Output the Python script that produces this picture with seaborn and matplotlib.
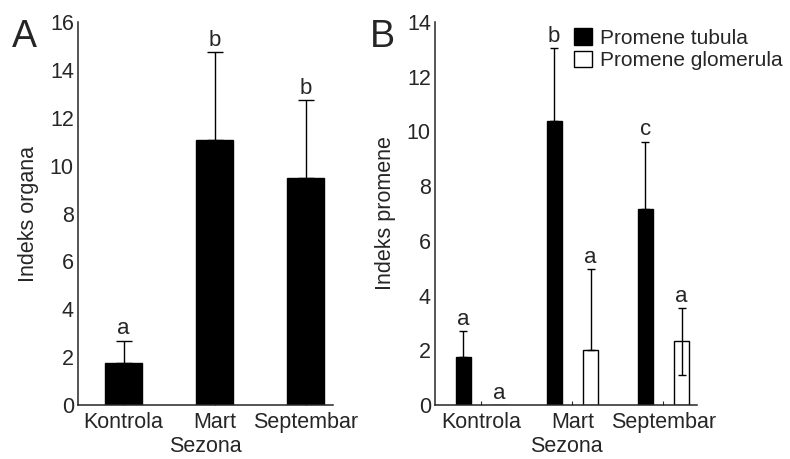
import matplotlib
matplotlib.use('Agg')
import matplotlib.pyplot as plt
import pandas as pd
import seaborn as sns

# ── Data ─────────────────────────────────────────────────────────────
seasons = ['Kontrola', 'Mart', 'Septembar']

organ_mean = [1.76, 11.08, 9.48]
organ_err = [0.93, 3.67, 3.25]
organ_letters = ['a', 'b', 'b']

series = ['Promene tubula', 'Promene glomerula']
tub_mean = [1.74, 10.38, 7.16]
tub_err = [0.96, 2.66, 2.46]
tub_letters = ['a', 'b', 'c']
glom_mean = [0.0, 2.01, 2.35]
glom_err = [0.0, 2.95, 1.18]
glom_err_low = [0.0, 0.0, 1.25]
glom_letters = ['a', 'a', 'a']

# ── Style ────────────────────────────────────────────────────────────
sns.set_style('ticks')
plt.rcParams['font.family'] = ['Liberation Sans', 'DejaVu Sans']
plt.rcParams.update({
    'axes.linewidth': 1.1,
    'xtick.direction': 'in',
    'ytick.direction': 'in',
    'xtick.major.size': 3,
    'ytick.major.size': 0,
    'xtick.major.pad': 5,
    'ytick.major.pad': 3,
    'xtick.labelsize': 15.5,
    'ytick.labelsize': 15.5,
    'axes.labelsize': 15.5,
})

fig = plt.figure(figsize=(7.9, 4.59), dpi=100)
axA = fig.add_axes([0.0987, 0.1176, 0.3228, 0.8344])
axB = fig.add_axes([0.5506, 0.1176, 0.3317, 0.8344])


def add_errors(ax, bars, up, low, letters, capsize):
    for bar, u, l, t in zip(bars, up, low, letters):
        x = bar.get_x() + bar.get_width() / 2
        y = bar.get_height()
        if u > 0:
            ax.errorbar(x, y, yerr=[[l], [u]], fmt='none', ecolor='black',
                        elinewidth=1.0, capsize=capsize, capthick=1.0, zorder=3)
        ax.annotate(t, (x, y + u), xytext=(0, 1), textcoords='offset points',
                    ha='center', va='bottom', fontsize=16)


# ── Panel A ──────────────────────────────────────────────────────────
dfA = pd.DataFrame({'Sezona': seasons, 'Indeks organa': organ_mean})
sns.barplot(data=dfA, x='Sezona', y='Indeks organa', color='black',
            width=0.41, errorbar=None, ax=axA, zorder=2)
for p in axA.patches:
    p.set_edgecolor('black')
add_errors(axA, axA.containers[0], organ_err, [0] * 3, organ_letters, 6)
axA.set_ylim(0, 16)
axA.set_yticks(range(0, 17, 2))
axA.set_xlim(-0.5, 2.3)
axA.set_ylabel('Indeks organa', labelpad=8)

# ── Panel B ──────────────────────────────────────────────────────────
dfB = pd.DataFrame({
    'Sezona': seasons * 2,
    'Indeks promene': tub_mean + glom_mean,
    'Tip': [series[0]] * 3 + [series[1]] * 3,
})
sns.barplot(data=dfB, x='Sezona', y='Indeks promene', hue='Tip',
            hue_order=series, palette=['black', 'white'], width=0.8, gap=0.58,
            errorbar=None, edgecolor='black', linewidth=1.0, ax=axB, zorder=2)
add_errors(axB, axB.containers[0], tub_err, [0] * 3, tub_letters, 3.2)
add_errors(axB, axB.containers[1], glom_err, glom_err_low, glom_letters, 3.2)
axB.set_ylim(0, 14)
axB.set_yticks(range(0, 15, 2))
axB.set_xlim(-0.51, 2.37)
axB.set_ylabel('Indeks promene', labelpad=8)
axB.legend(loc='upper left', bbox_to_anchor=(574 / 790, 1 - 28 / 459),
           bbox_transform=fig.transFigure, frameon=False, fontsize=15,
           handlelength=0.85, handleheight=0.85, handletextpad=0.4,
           labelspacing=0.15, borderpad=0, borderaxespad=0)

for ax in (axA, axB):
    sns.despine(ax=ax)
    ax.set_xlabel('Sezona', labelpad=2)

fig.text(0.015, 0.898, 'A', fontsize=27, ha='left', va='baseline')
fig.text(0.468, 0.898, 'B', fontsize=27, ha='left', va='baseline')

plt.savefig('out.png', dpi=100)
